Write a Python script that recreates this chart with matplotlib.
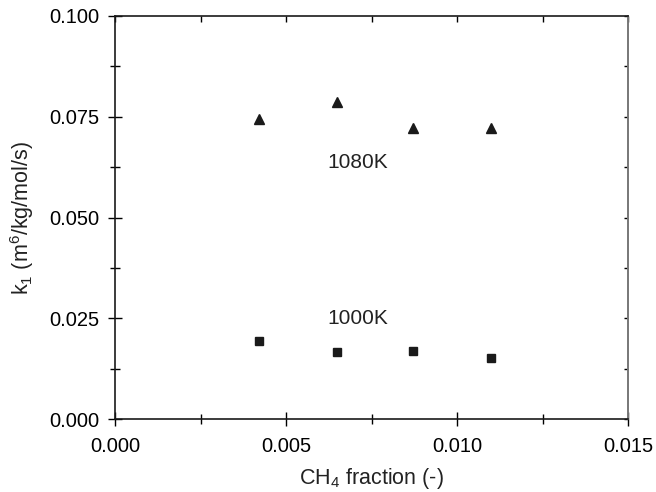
import matplotlib
matplotlib.use("Agg")
import matplotlib.pyplot as plt
from matplotlib.lines import TICKDOWN, TICKLEFT
from matplotlib.ticker import MultipleLocator

plt.rcParams["font.family"] = ["Liberation Sans", "DejaVu Sans"]
plt.rcParams["mathtext.default"] = "regular"

# CH4 fraction for each run
ch4_fraction = [0.0042, 0.0065, 0.0087, 0.0110]
# k1 values at the two temperatures
k1_1080 = [0.0744, 0.0786, 0.0723, 0.0722]
k1_1000 = [0.0195, 0.0167, 0.0170, 0.0153]

x_ticks = [0.000, 0.005, 0.010, 0.015]
y_ticks = [0.000, 0.025, 0.050, 0.075, 0.100]


def main() -> None:
    fig = plt.figure(figsize=(6.56, 4.92), dpi=100)
    ax = fig.add_axes([0.1753, 0.1478, 0.7825, 0.8197])

    ax.plot(ch4_fraction, k1_1080, linestyle="none", marker="^",
            markersize=7, color="#1a1a1a")
    ax.plot(ch4_fraction, k1_1000, linestyle="none", marker="s",
            markersize=6, color="#1a1a1a")

    ax.text(0.0062, 0.0636, "1080K", fontsize=15, va="center", ha="left", color="#222222")
    ax.text(0.0062, 0.0251, "1000K", fontsize=15, va="center", ha="left", color="#222222")

    ax.set_xlim(0.0, 0.015)
    ax.set_ylim(0.0, 0.100)
    ax.set_xticks(x_ticks)
    ax.set_yticks(y_ticks)
    ax.set_xticklabels([f"{v:.3f}" for v in x_ticks])
    ax.set_yticklabels([f"{v:.3f}" for v in y_ticks])
    ax.xaxis.set_minor_locator(MultipleLocator(0.0025))
    ax.yaxis.set_minor_locator(MultipleLocator(0.0125))

    ax.tick_params(which="major", direction="inout", length=10, width=1,
                   labelsize=14.5, top=True, right=True)
    ax.tick_params(which="minor", direction="inout", length=7, width=1,
                   top=True, right=True)
    ax.tick_params(axis="x", which="major", pad=8)
    ax.tick_params(axis="y", which="major", pad=6)

    # top/right ticks only point inwards and are shorter
    for t in ax.xaxis.get_major_ticks() + ax.xaxis.get_minor_ticks():
        t.tick2line.set_marker(TICKDOWN)
        t.tick2line.set_markersize(4)
    for t in ax.yaxis.get_major_ticks() + ax.yaxis.get_minor_ticks():
        t.tick2line.set_marker(TICKLEFT)
        t.tick2line.set_markersize(3)

    for side in ["left", "bottom", "top"]:
        ax.spines[side].set_linewidth(1.2)
        ax.spines[side].set_color("#1a1a1a")
    ax.spines["right"].set_linewidth(1.4)
    ax.spines["right"].set_color("#777777")

    ax.set_xlabel("CH$_4$ fraction (-)", fontsize=15.5, labelpad=7, color="#222222")
    ax.set_ylabel("k$_1$ (m$^6$/kg/mol/s)", fontsize=15.5, labelpad=10, color="#222222")

    fig.savefig("out.png", dpi=100)
    plt.close(fig)


if __name__ == "__main__":
    main()
